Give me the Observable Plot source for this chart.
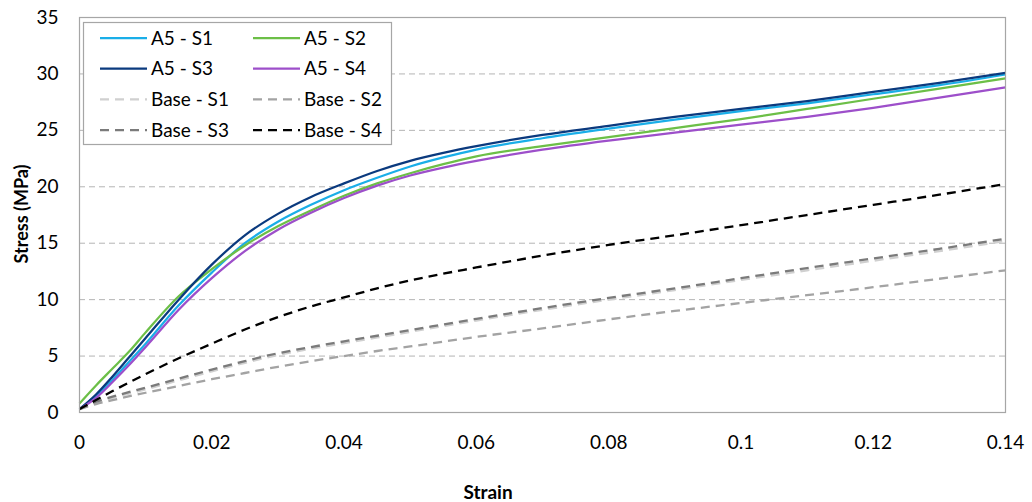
<!DOCTYPE html>
<html><head><meta charset="utf-8">
<script src="https://cdn.jsdelivr.net/npm/d3@7"></script>
<script src="https://cdn.jsdelivr.net/npm/@observablehq/plot@0.6"></script>
<style>
body{margin:0;background:#fff}
#chart svg{font-family:Lato,"Open Sans",sans-serif}
</style>
</head><body><div id="chart"></div>
<script>
// ---- data ----
const a5Strain = [0,0.0025,0.005,0.0075,0.01,0.015,0.02,0.025,0.03,0.035,0.04,0.045,0.05,0.055,0.06,0.07,0.08,0.09,0.1,0.11,0.12,0.13,0.14];
const a5S1 = [0.3,1.5,2.9,4.5,6.1,9.5,12.4,15.0,16.9,18.4,19.7,20.8,21.8,22.6,23.3,24.3,25.15,25.95,26.7,27.4,28.2,29.0,29.95];
const a5S2 = [0.8,2.4,3.9,5.4,7.1,10.3,12.7,14.8,16.5,17.9,19.2,20.3,21.2,22.0,22.7,23.6,24.4,25.2,26.0,26.9,27.8,28.7,29.6];
const a5S3 = [0.3,1.6,3.2,4.9,6.6,10.0,13.1,15.7,17.6,19.1,20.3,21.4,22.3,23.0,23.6,24.6,25.4,26.2,26.9,27.6,28.4,29.2,30.1];
const a5S4 = [0.3,1.3,2.7,4.2,5.8,9.1,11.9,14.3,16.2,17.7,19.0,20.1,21.0,21.7,22.3,23.3,24.1,24.8,25.5,26.2,27.0,27.9,28.8];

const baseStrain = [0,0.0025,0.005,0.01,0.015,0.02,0.025,0.03,0.035,0.04,0.045,0.05,0.06,0.07,0.08,0.09,0.1,0.11,0.12,0.13,0.14];
const baseS1 = [0.3,0.85,1.3,2.05,2.85,3.65,4.4,5.1,5.65,6.15,6.65,7.15,8.15,9.1,10.0,10.85,11.75,12.6,13.45,14.3,15.2];
const baseS2 = [0.3,0.75,1.1,1.75,2.35,2.95,3.5,4.05,4.55,5.0,5.45,5.85,6.7,7.45,8.25,9.0,9.7,10.4,11.1,11.85,12.6];
const baseS3 = [0.3,0.95,1.4,2.2,3.0,3.8,4.55,5.25,5.8,6.3,6.8,7.3,8.3,9.25,10.15,11.0,11.9,12.8,13.65,14.5,15.4];
const baseS4 = [0.3,1.1,1.9,3.4,4.8,6.1,7.35,8.45,9.4,10.2,11.0,11.7,12.85,13.9,14.85,15.7,16.6,17.5,18.4,19.3,20.25];

const seriesNames = ["A5 - S1","A5 - S2","A5 - S3","A5 - S4","Base - S1","Base - S2","Base - S3","Base - S4"];
const seriesColors = ["#1aaee8","#6cbf47","#0b3a7e","#9d4fca","#d0d0d0","#a3a3a3","#7b7b7b","#000000"];
const seriesDashed = [false,false,false,false,true,true,true,true];

const xTicks = [0,0.02,0.04,0.06,0.08,0.1,0.12,0.14];
const yTicks = [0,5,10,15,20,25,30,35];
const gridValues = [5,10,15,20,25,30];
const xTitle = "Strain";
const yTitle = "Stress (MPa)";

// ---- build marks ----
const seriesData = [
  [a5Strain,a5S1],[a5Strain,a5S2],[a5Strain,a5S3],[a5Strain,a5S4],
  [baseStrain,baseS1],[baseStrain,baseS2],[baseStrain,baseS3],[baseStrain,baseS4]
];
const lineMarks = seriesData.map(([xs,ys],i) => {
  const rows = xs.map((x,j) => ({strain:x, stress:ys[j], series:seriesNames[i]}));
  return Plot.line(rows, {
    x:"strain", y:"stress", stroke:"series", curve:"monotone-x",
    strokeWidth: seriesDashed[i] ? 2.3 : 2.25,
    strokeDasharray: seriesDashed[i] ? "9,6" : null,
    strokeLinecap: "butt"
  });
});

const W = 1032, H = 502;
const plot = Plot.plot({
  width:W, height:H,
  marginLeft:79, marginRight:27, marginTop:17, marginBottom:90,
  x:{domain:[0,0.14]},
  y:{domain:[0,35]},
  color:{domain:seriesNames, range:seriesColors},
  style:{fontFamily:"Lato, 'Open Sans', sans-serif", fontSize:"18px", color:"#000", background:"#fff", overflow:"visible"},
  marks:[
    Plot.ruleY(gridValues,{stroke:"#b4b4b4", strokeDasharray:"6,4", strokeWidth:1}),
    Plot.axisY(yTicks,{tickSize:0, tickPadding:21, label:null, fontSize:19, tickFormat:d => String(d)}),
    Plot.axisX(xTicks,{tickSize:0, tickPadding:23, label:null, fontSize:19, tickFormat:d => String(d)}),
    ...lineMarks,
    Plot.frame({stroke:"#a6a6a6", strokeWidth:1.2})
  ]
});
document.getElementById("chart").appendChild(plot);

// ---- axis titles & legend ----
const svg = d3.select(plot);
svg.append("text")
  .attr("transform","translate(22,214) rotate(-90)")
  .attr("text-anchor","middle").attr("dy","0.35em")
  .style("font-size","18px").style("font-weight","bold").attr("fill","#000")
  .text(yTitle);
svg.append("text")
  .attr("x",488).attr("y",499)
  .attr("text-anchor","middle")
  .style("font-size","19px").style("font-weight","bold").attr("fill","#000")
  .text(xTitle);

const lg = svg.append("g");
lg.append("rect").attr("x",83.5).attr("y",22.5).attr("width",308).attr("height",122)
  .attr("fill","#fff").attr("stroke","#a6a6a6").attr("stroke-width",1.2);
seriesNames.forEach((name,i) => {
  const col = i % 2, row = Math.floor(i/2);
  const y = 38 + row*30.7;
  const x0 = col ? 253 : 100;
  lg.append("line").attr("x1",x0).attr("x2",x0+47).attr("y1",y).attr("y2",y)
    .attr("stroke",seriesColors[i]).attr("stroke-width",2.25)
    .attr("stroke-dasharray",seriesDashed[i] ? "9,6" : null);
  lg.append("text").attr("x",x0+51).attr("y",y).attr("dy","0.35em")
    .attr("text-anchor","start")
    .style("font-size","19px").attr("fill","#000").text(name);
});
</script>
</body></html>
